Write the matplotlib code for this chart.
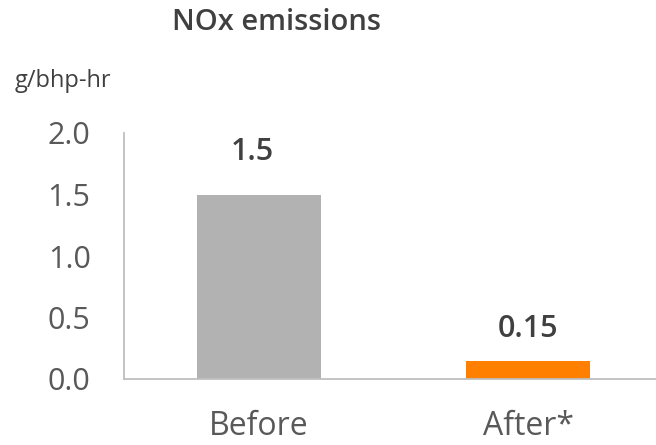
import matplotlib
matplotlib.use("Agg")
import matplotlib.pyplot as plt

categories = ["Before", "After*"]
values = [1.5, 0.15]
value_labels = ["1.5", "0.15"]
bar_colors = ["#B2B2B2", "#FF7F00"]
y_ticks = [0.0, 0.5, 1.0, 1.5, 2.0]
y_tick_labels = ["0.0", "0.5", "1.0", "1.5", "2.0"]

plt.rcParams["font.family"] = ["Open Sans", "DejaVu Sans"]

W, H = 656, 445
fig = plt.figure(figsize=(W / 100, H / 100), dpi=100)
# axes: spine at x=124 px, data area extends beyond the right edge
left, right = 124, 663
bottom, top = 379, 133
ax = fig.add_axes([left / W, 1 - bottom / H, (right - left) / W, (bottom - top) / H])

x = list(range(len(categories)))
ax.bar(x, values, width=0.46, color=bar_colors)
ax.set_xlim(-0.5, 1.5)
ax.set_ylim(0, 2.0)

ax.set_yticks(y_ticks)
ax.set_yticklabels(y_tick_labels)
ax.set_xticks(x)
ax.set_xticklabels(categories)
ax.tick_params(axis="y", length=0, pad=24, labelsize=22, labelcolor="#595959")
ax.tick_params(axis="x", length=0, pad=22, labelsize=23, labelcolor="#595959")

for s in ["top", "right"]:
    ax.spines[s].set_visible(False)
for s in ["left", "bottom"]:
    ax.spines[s].set_color("#BFBFBF")
    ax.spines[s].set_linewidth(1.3)

# value labels above each bar (x, y offsets in points)
label_offsets = [(-5, 20), (0, 12)]
for xi, v, lab, off in zip(x, values, value_labels, label_offsets):
    ax.annotate(lab, (xi, v), xytext=off, textcoords="offset points",
                ha="center", va="bottom", fontsize=22, fontweight="semibold", color="#404040")

fig.text(277 / W, 1 - 23 / H, "NOx emissions", ha="center", va="center",
         fontsize=21, fontweight="semibold", color="#404040")
fig.text(15 / W, 1 - 81 / H, "g/bhp-hr", ha="left", va="center",
         fontsize=17, color="#404040")

fig.savefig("out.png", dpi=100)
